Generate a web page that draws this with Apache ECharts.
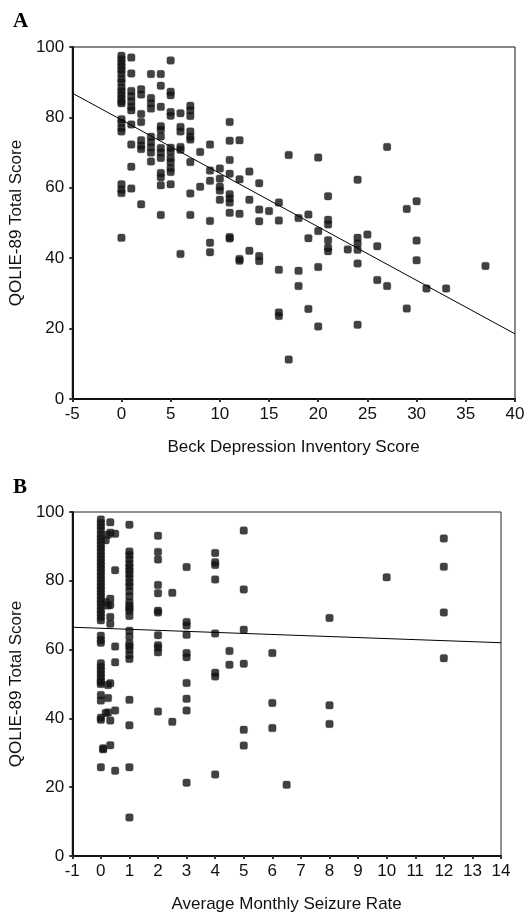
<!DOCTYPE html>
<html>
<head>
<meta charset="utf-8">
<script src="https://cdn.jsdelivr.net/npm/echarts@6/dist/echarts.min.js"></script>
<style>
  html, body { margin: 0; padding: 0; background: #fff; }
  #chart { width: 529px; height: 914px; }
</style>
</head>
<body>
<div id="chart"></div>
<script>
// panel A: Beck Depression Inventory score vs QOLIE-89 total score
const bdiPoints = [
  [0,97.5],[0,96.5],[0,95.5],[0,94.5],[0,93.5],[0,92.5],[0,91],[0,90],[0,88.5],[0,87.5],[0,86.5],[0,85.5],[0,84.5],[0,84],
  [0,79.5],[0,78.5],[0,77],[0,76],[0,61],[0,59.5],[0,58.5],[0,45.8],
  [1,97],[1,92.5],[1,87.5],[1,86],[1,84.5],[1,83],[1,82],[1,78],[1,72.3],[1,66],[1,59.8],
  [2,88],[2,86.5],[2,81],[2,78.7],[2,73.5],[2,72],[2,71],[2,55.3],
  [3,92.3],[3,85.5],[3,84],[3,82.5],[3,74.5],[3,73],[3,71.5],[3,70],[3,67.5],
  [4,92.3],[4,89],[4,83],[4,77.5],[4,76.5],[4,74.6],[4,71.3],[4,70],[4,68.5],[4,64.2],[4,63],[4,60.7],[4,52.3],
  [5,96.2],[5,87.3],[5,86.3],[5,81.5],[5,80.5],[5,71.4],[5,70.3],[5,68.5],[5,67.3],[5,65.6],[5,64.5],[5,61],
  [6,81.2],[6,77.3],[6,76],[6,71.6],[6,70.8],[6,41.2],
  [7,83.3],[7,82],[7,80.4],[7,76],[7,74.5],[7,73.7],[7,67.3],[7,58.4],[7,52.3],
  [8,70.2],[8,60.3],
  [9,72.3],[9,64.9],[9,62],[9,50.6],[9,44.4],[9,41.7],
  [10,65.5],[10,62.6],[10,60.3],[10,59.2],[10,56.6],
  [11,78.7],[11,73.4],[11,67.9],[11,64],[11,58.2],[11,57],[11,55.8],[11,52.9],[11,46],[11,45.6],
  [12,73.5],[12,62.4],[12,52.6],[12,39.8],[12,39.3],
  [13,64.6],[13,56.6],[13,42.1],
  [14,61.3],[14,53.8],[14,50.5],[14,40.6],[14,39.2],
  [15,53.4],
  [16,55.8],[16,50.7],[16,36.7],[16,24.6],[16,23.6],
  [17,69.3],[17,11.2],
  [18,51.4],[18,36.4],[18,32.1],
  [19,52.4],[19,45.7],[19,25.6],
  [20,68.6],[20,47.7],[20,37.5],[20,20.6],
  [21,57.6],[21,50.9],[21,49.6],[21,45.1],[21,43],[21,42],
  [23,42.5],
  [24,62.3],[24,45.8],[24,44.2],[24,42.4],[24,38.5],[24,21.1],
  [25,46.7],
  [26,43.4],[26,33.8],
  [27,71.6],[27,32.1],
  [29,54],[29,25.7],
  [30,56.2],[30,45],[30,39.4],
  [31,31.4],[33,31.4],[37,37.8]
];

// panel B: average monthly seizure rate vs QOLIE-89 total score
const seizurePoints = [
  [0,97.8],[0,96.8],[0,95.8],[0,94.8],[0,93.5],[0,92.5],[0,91.5],[0,90.5],[0,89.5],[0,88.5],[0,87.5],[0,86.5],[0,85.5],
  [0,84.5],[0,83.5],[0,82.5],[0,81.5],[0,80.5],[0,79.5],[0,78.5],[0,77.5],[0,76.5],[0,75.5],[0,74.5],[0,73.5],[0,72.5],
  [0,71.5],[0,70.5],[0,69.5],[0,68.5],[0,64],[0,62.8],[0,62],[0,56],[0,55],[0,54],[0,53],[0,52],[0,51],[0,50.5],[0,50],
  [0,46.8],[0,45.2],[0,40.2],[0,39.6],[0,25.8],
  [0.08,31.3],[0.08,31],
  [0.17,91.8],[0.17,73.8],[0.17,41.6],
  [0.25,93.4],[0.25,72.8],[0.25,49.7],[0.25,45.9],[0.25,41.7],
  [0.33,97],[0.33,94],[0.33,74.8],[0.33,73],[0.33,69.5],[0.33,67.5],[0.33,50.2],[0.33,39.4],[0.33,32.2],
  [0.5,93.7],[0.5,83.1],[0.5,60.9],[0.5,56.3],[0.5,42.3],[0.5,24.8],
  [1,96.3],[1,88.5],[1,87.5],[1,86.3],[1,85],[1,84],[1,83],[1,82],[1,80.8],[1,79.5],[1,78.5],[1,77],[1,75.5],[1,73.8],
  [1,72.8],[1,72],[1,71.3],[1,69.8],[1,65.5],[1,63.8],[1,61.8],[1,61],[1,60],[1,58.5],[1,57.3],[1,45.4],[1,38],[1,25.8],[1,11.2],
  [2,93.1],[2,88.4],[2,86.2],[2,78.8],[2,76.4],[2,71.3],[2,70.8],[2,64.2],[2,61.3],[2,60.6],[2,59.2],[2,42],
  [2.5,76.5],[2.5,39],
  [3,84],[3,68],[3,67],[3,64.3],[3,59],[3,57.8],[3,50.3],[3,45.7],[3,42.3],[3,21.3],
  [4,88.1],[4,85.4],[4,84.6],[4,80.4],[4,64.7],[4,53.3],[4,52.2],[4,23.7],
  [4.5,59.6],[4.5,55.6],
  [5,94.6],[5,77.5],[5,65.8],[5,55.9],[5,36.7],[5,32.1],
  [6,59],[6,44.5],[6,37.2],
  [6.5,20.7],
  [8,69.2],[8,43.8],[8,38.4],
  [10,81],
  [12,92.3],[12,84.1],[12,70.8],[12,57.5]
];

// fitted regression lines: [intercept, slope]
const fitA = [79.3, -1.52];
const fitB = [66.2, -0.3];

const xRangeA = [-5, 40];
const xRangeB = [-1, 14];
const yTicks = [0, 100, 20];

function fitLine(fit, range) {
  return range.map(function (x) { return [x, fit[0] + fit[1] * x]; });
}

const font = 'Liberation Sans, Arial, sans-serif';

function xAxisCfg(idx, range, step, name) {
  return {
    gridIndex: idx, type: 'value', min: range[0], max: range[1], interval: step,
    name: name, nameLocation: 'middle', nameGap: 40,
    nameTextStyle: { fontFamily: font, fontSize: 17, color: '#111' },
    axisLine: { onZero: false, lineStyle: { color: '#111', width: 2 } },
    axisTick: { length: 3, lineStyle: { color: '#333', width: 2 } },
    axisLabel: { fontFamily: font, fontSize: 17, color: '#111', margin: 7 },
    splitLine: { show: false }
  };
}

function yAxisCfg(idx) {
  return {
    gridIndex: idx, type: 'value', min: yTicks[0], max: yTicks[1], interval: yTicks[2],
    name: 'QOLIE-89 Total Score', nameLocation: 'middle', nameGap: 38,
    nameTextStyle: { fontFamily: font, fontSize: 17, color: '#111' },
    axisLine: { onZero: false, lineStyle: { color: '#111', width: 2 } },
    axisTick: { length: 3, lineStyle: { color: '#333', width: 2 } },
    axisLabel: { fontFamily: font, fontSize: 17, color: '#111', margin: 8 },
    splitLine: { show: false }
  };
}

const dotStyle = { color: '#111111', borderColor: '#333', borderWidth: 0.4 };

const chart = echarts.init(document.getElementById('chart'), null, { renderer: 'canvas' });

const option = {
  backgroundColor: '#ffffff',
  animation: false,
  title: [
    { text: 'A', left: 8, top: 6, textStyle: { fontFamily: 'Liberation Serif, Times New Roman, serif', fontWeight: 'bold', fontSize: 21, color: '#000' } },
    { text: 'B', left: 8, top: 472, textStyle: { fontFamily: 'Liberation Serif, Times New Roman, serif', fontWeight: 'bold', fontSize: 21, color: '#000' } }
  ],
  grid: [
    { left: 64, top: 47, width: 451, height: 352, show: true, borderColor: '#111', borderWidth: 1, backgroundColor: 'transparent' },
    { left: 65, top: 512, width: 436, height: 345, show: true, borderColor: '#222', borderWidth: 1, backgroundColor: 'transparent' }
  ],
  xAxis: [
    xAxisCfg(0, xRangeA, 5, 'Beck Depression Inventory Score'),
    xAxisCfg(1, xRangeB, 1, 'Average Monthly Seizure Rate')
  ],
  yAxis: [yAxisCfg(0), yAxisCfg(1)],
  series: [
    {
      type: 'scatter', xAxisIndex: 0, yAxisIndex: 0,
      symbol: 'roundRect', symbolSize: 7.5,
      itemStyle: dotStyle, data: bdiPoints
    },
    {
      type: 'line', xAxisIndex: 0, yAxisIndex: 0, symbol: 'none',
      lineStyle: { color: '#000', width: 1 }, data: fitLine(fitA, xRangeA)
    },
    {
      type: 'scatter', xAxisIndex: 1, yAxisIndex: 1,
      symbol: 'roundRect', symbolSize: 7.5,
      itemStyle: dotStyle, data: seizurePoints
    },
    {
      type: 'line', xAxisIndex: 1, yAxisIndex: 1, symbol: 'none',
      lineStyle: { color: '#000', width: 1 }, data: fitLine(fitB, xRangeB)
    }
  ]
};

chart.setOption(option);
</script>
</body>
</html>
